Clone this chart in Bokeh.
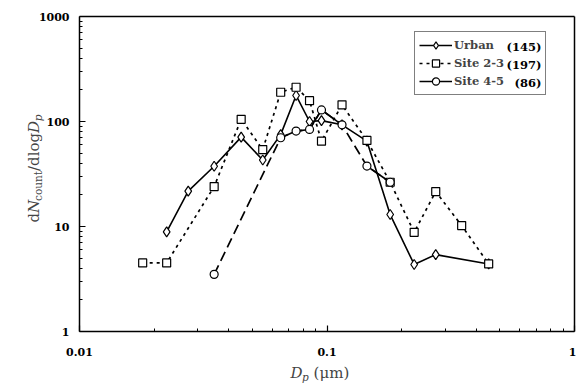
from bokeh.plotting import figure
from bokeh.models import Label, Legend, LegendItem, FixedTicker, LogAxis
from bokeh.embed import file_html
from bokeh.resources import INLINE
import math

# ---- data ----
urban_x = [0.0225, 0.0275, 0.035, 0.045, 0.055, 0.065, 0.075, 0.085, 0.095, 0.115, 0.145, 0.18, 0.225, 0.275, 0.45]
urban_y = [8.9, 21.7, 37.5, 71, 43, 75, 177, 100, 102, 93, 65, 13.0, 4.35, 5.4, 4.4]

site23_x = [0.018, 0.0225, 0.035, 0.045, 0.055, 0.065, 0.075, 0.085, 0.095, 0.115, 0.145, 0.18, 0.225, 0.275, 0.35, 0.45]
site23_y = [4.5, 4.5, 24, 105, 54, 190, 212, 158, 65, 144, 66, 26.4, 8.8, 21.5, 10.2, 4.4]

site45_x = [0.035, 0.065, 0.075, 0.085, 0.095, 0.115, 0.145, 0.18]
site45_y = [3.5, 70, 81, 84, 129, 93, 37.6, 26.4]

series_names = ["Urban", "Site 2-3", "Site 4-5"]
series_counts = ["(145)", "(197)", "(86)"]

x_ticks = [0.01, 0.1, 1]
x_tick_labels = ["0.01", "0.1", "1"]
y_ticks = [1, 10, 100, 1000]
y_tick_labels = ["1", "10", "100", "1000"]
x_lim = (0.01, 1)
y_lim = (1, 1000)

# ---- layout constants (pixels) ----
W, H = 576, 384
FL, FR, FT, FB = 79, 574, 16, 331   # plot box edges inside the canvas
SERIF = "DejaVu Serif"

xdec = (FR - FL) / (math.log10(x_lim[1]) - math.log10(x_lim[0]))
ydec = (FB - FT) / (math.log10(y_lim[1]) - math.log10(y_lim[0]))
x_range = (10 ** (math.log10(x_lim[0]) - FL / xdec), 10 ** (math.log10(x_lim[1]) + (W - FR) / xdec))
y_range = (10 ** (math.log10(y_lim[0]) - (H - FB) / ydec), 10 ** (math.log10(y_lim[1]) + FT / ydec))

p = figure(width=W, height=H, x_axis_type="log", y_axis_type="log",
           x_range=x_range, y_range=y_range,
           x_axis_location=None, y_axis_location=None,
           output_backend="svg", toolbar_location=None,
           min_border=0)
p.title.visible = False
p.xgrid.visible = False
p.ygrid.visible = False
p.outline_line_color = None

minor_x = [m * 10.0 ** e for e in (-2, -1) for m in range(2, 10)]
minor_y = [m * 10.0 ** e for e in (0, 1, 2) for m in range(2, 10)]


def style_axis(ax, ticks, labels, minors):
    ax.ticker = FixedTicker(ticks=ticks, minor_ticks=minors)
    ax.major_label_overrides = {t: s for t, s in zip(ticks, labels)}
    ax.axis_line_width = 1.5
    ax.axis_line_color = "black"
    ax.major_tick_in = 6
    ax.major_tick_out = 0
    ax.minor_tick_in = 3
    ax.minor_tick_out = 0
    ax.major_tick_line_width = 1.2
    ax.minor_tick_line_width = 1.0
    ax.major_label_text_font = SERIF
    ax.major_label_text_font_style = "bold"
    ax.major_label_text_font_size = "11px"
    ax.major_label_text_color = "black"


xaxis = LogAxis(fixed_location=y_lim[0], bounds=x_lim)
style_axis(xaxis, x_ticks, x_tick_labels, minor_x)
xaxis.major_label_standoff = 16
p.add_layout(xaxis, "below")

yaxis = LogAxis(fixed_location=x_lim[0], bounds=y_lim)
style_axis(yaxis, y_ticks, y_tick_labels, minor_y)
yaxis.major_label_standoff = 10
p.add_layout(yaxis, "left")

# top and right edges of the box
top_ax = LogAxis(fixed_location=y_lim[1], bounds=x_lim, ticker=FixedTicker(ticks=[]),
                 major_tick_line_color=None, minor_tick_line_color=None,
                 major_label_text_font_size="0px", axis_line_width=1.5)
p.add_layout(top_ax, "above")
right_ax = LogAxis(fixed_location=x_lim[1], bounds=y_lim, ticker=FixedTicker(ticks=[]),
                   major_tick_line_color=None, minor_tick_line_color=None,
                   major_label_text_font_size="0px", axis_line_width=1.5)
p.add_layout(right_ax, "right")

# ---- series ----
u_line = p.line(urban_x, urban_y, line_color="black", line_width=1.6)
u_pts = p.scatter(urban_x, urban_y, marker="diamond", size=10, fill_color="white",
                  line_color="black", line_width=1.2)

s_line = p.line(site23_x, site23_y, line_color="black", line_width=1.7, line_dash="3 4")
s_pts = p.scatter(site23_x, site23_y, marker="square", size=8, fill_color="white",
                  line_color="black", line_width=1.2)

c_dash = p.line(site45_x, site45_y, line_color="black", line_width=1.7, line_dash="10 5")
c_solid_a = p.line(site45_x[1:6], site45_y[1:6], line_color="black", line_width=1.6)
c_solid_b = p.line(site45_x[6:], site45_y[6:], line_color="black", line_width=1.6)
c_pts = p.scatter(site45_x, site45_y, marker="circle", size=8, fill_color="white",
                  line_color="black", line_width=1.2)

legend = Legend(items=[
    LegendItem(label=series_names[0], renderers=[u_line, u_pts]),
    LegendItem(label=series_names[1], renderers=[s_line, s_pts]),
    LegendItem(label=series_names[2], renderers=[c_solid_a, c_pts]),
], location=(414, H - 95))
legend.border_line_color = "black"
legend.border_line_width = 1.2
legend.background_fill_alpha = 0.0
legend.padding = 4
legend.spacing = 0
legend.margin = 0
legend.glyph_width = 33
legend.glyph_height = 18
legend.label_height = 18
legend.label_standoff = 2
legend.label_width = 87
legend.label_text_font = SERIF
legend.label_text_font_style = "bold"
legend.label_text_font_size = "11.5px"
legend.label_text_baseline = "middle"
p.add_layout(legend)

for i, cnt in enumerate(series_counts):
    p.add_layout(Label(x=541, y=H - 46 - 18 * i, x_units="screen", y_units="screen",
                       text=cnt, text_align="right", text_baseline="middle",
                       text_font=SERIF, text_font_style="bold", text_font_size="11.5px",
                       text_color="black"))

# ---- y axis label: d N_count / dlog D_p (rotated) ----
y_pieces = [  # text, size, style, advance, shift
    ("d", "15px", "normal", 9.6, 0),
    ("N", "15px", "italic", 12.0, 0),
    ("count", "10.5px", "normal", 29.9, 4),
    ("/dlog", "15px", "normal", 38.1, 0),
    ("D", "15px", "italic", 11.6, 0),
    ("p", "10.5px", "italic", 6.7, 4),
]
pos = H - 222.0
for txt, sz, st, adv, sh in y_pieces:
    p.add_layout(Label(x=33 + sh, y=pos, x_units="screen", y_units="screen",
                       text=txt, angle=90, angle_units="deg",
                       text_align="left", text_baseline="alphabetic",
                       text_font=SERIF, text_font_style=st, text_font_size=sz))
    pos += adv

# ---- x axis label: D_p (μm) ----
x_pieces = [
    ("D", "15px", "italic", 11.6, 0),
    ("p", "10.5px", "italic", 11.5, -4),
    ("(μm)", "15px", "normal", 35.8, 0),
]
pos = 290.0
for txt, sz, st, adv, sh in x_pieces:
    p.add_layout(Label(x=pos, y=12 + sh, x_units="screen", y_units="screen",
                       text=txt, text_align="left", text_baseline="alphabetic",
                       text_font=SERIF, text_font_style=st, text_font_size=sz))
    pos += adv

open("out.html", "w").write(file_html(p, INLINE))
